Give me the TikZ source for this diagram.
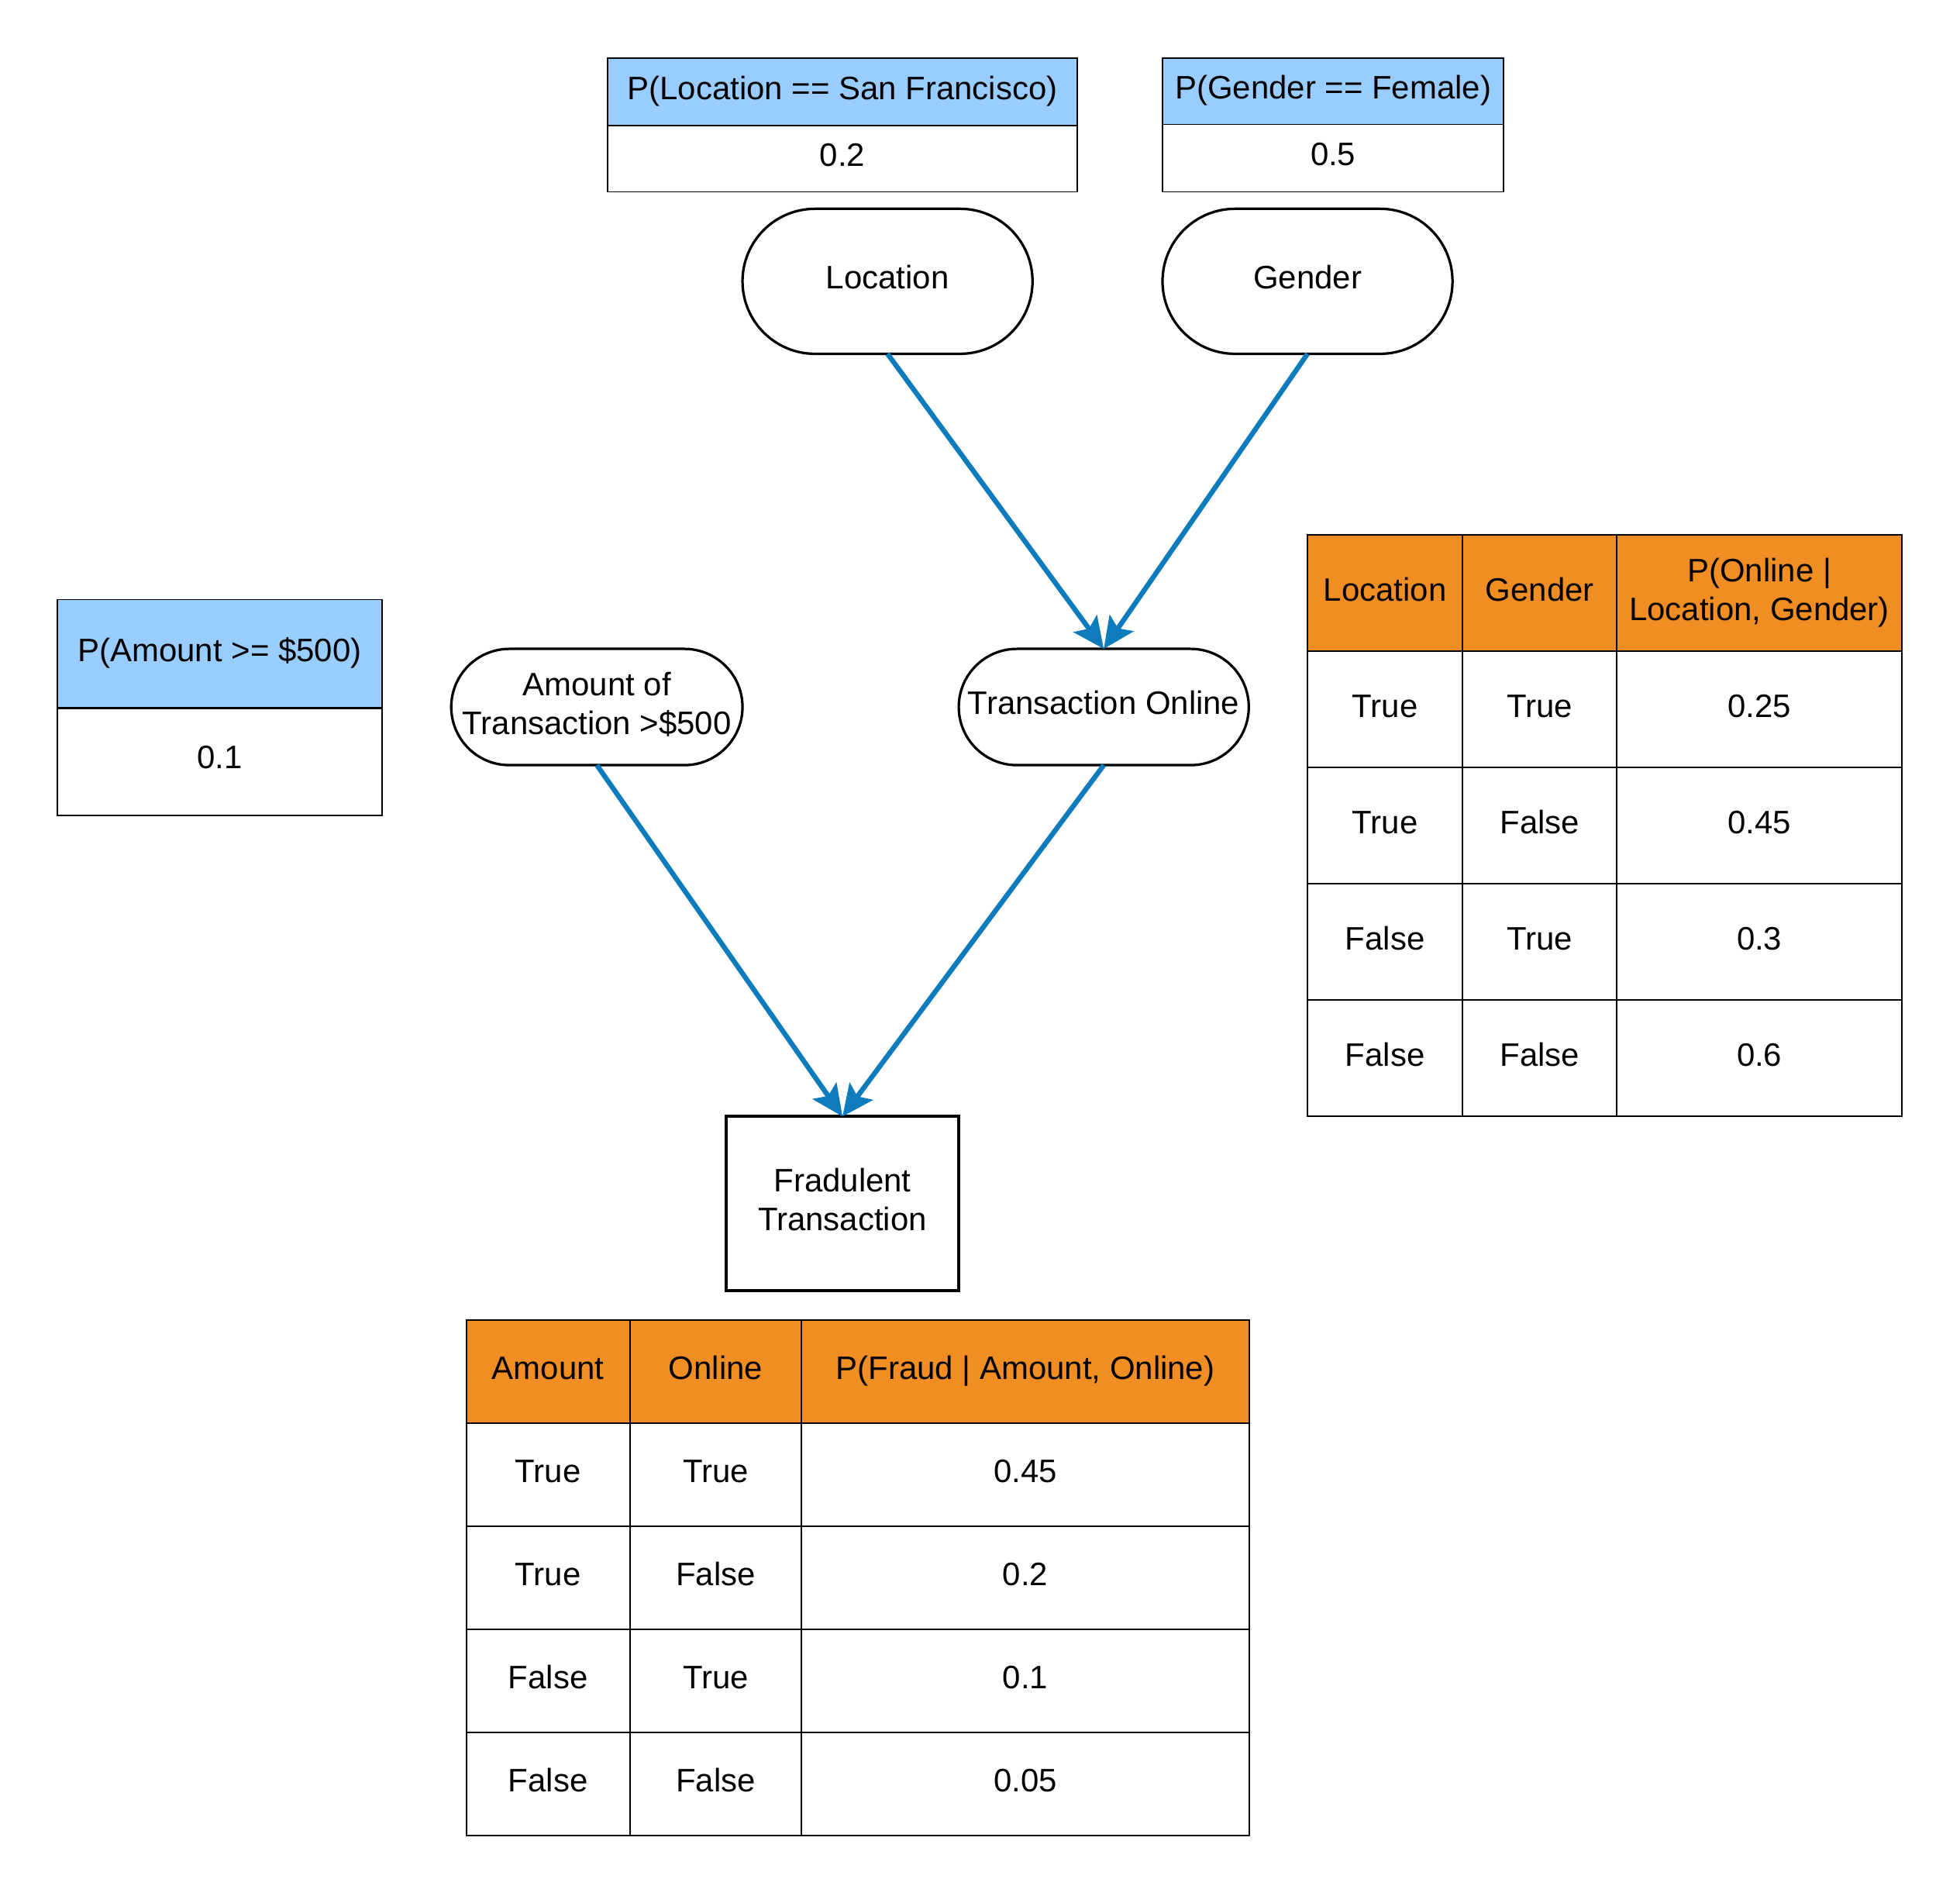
\documentclass[tikz,border=0pt]{standalone}
\usepackage{fontspec}
\setmainfont{Liberation Sans}
\usetikzlibrary{arrows.meta}

\definecolor{hdrblue}{HTML}{99CCFF}
\definecolor{hdrorange}{HTML}{F08D23}
\definecolor{linkblue}{HTML}{0E7CBC}

% depth strut for two-line labels
\newcommand{\lowstrut}{\rule[-6.2pt]{0pt}{6.2pt}}
% table cell: [options]{name}{centre}{width}{height}{text}
\newcommand{\tcell}[6][]{\node[cell,#1,minimum width=#4pt,minimum height=#5pt] (#2) at (#3) {#6};}

\begin{document}
\begin{tikzpicture}[x=1pt,y=-1pt,
  every node/.style={font=\fontsize{26}{31}\selectfont, inner sep=0pt, outer sep=0pt},
  oneline/.style={text height=18.2pt, text depth=6.2pt},
  cellbase/.style={draw, line width=1.1pt},
  cell/.style={cellbase, oneline},
  pill/.style={draw, line width=2pt, fill=white},
  link/.style={draw=linkblue, line width=4pt,
    -{Stealth[length=25pt,width=23pt,inset=5pt]}},
]
\useasboundingbox (0,0) rectangle (1568,1516);

% ---- prior tables ----
\tcell[fill=hdrblue]{plocH}{674,73.5}{376}{54}{P(Location == San Francisco)}
\tcell{plocV}{674,127}{376}{53}{0.2}

\tcell[fill=hdrblue]{pgenH}{1066.5,73}{273}{53}{P(Gender == Female)}
\tcell{pgenV}{1066.5,126.5}{273}{54}{0.5}

\tcell[fill=hdrblue]{pamtH}{175.75,523}{259.5}{87}{P(Amount >= \$500)}
\tcell{pamtV}{175.75,609}{259.5}{86}{0.1}

% ---- network nodes ----
\node[pill, oneline, minimum width=232pt, minimum height=116pt, rounded corners=58pt] (loc) at (710,225) {Location};
\node[pill, oneline, minimum width=232pt, minimum height=116pt, rounded corners=58pt] (gen) at (1046,225) {Gender};
\node[pill, align=center, minimum width=233pt, minimum height=93pt, rounded corners=46.5pt] (amt) at (477.5,565.5) {Amount of\\Transaction >\$500\lowstrut};
\node[pill, oneline, minimum width=232pt, minimum height=93pt, rounded corners=46.5pt] (onl) at (883,565.5) {Transaction Online};
\node[draw, line width=2.5pt, fill=white, align=center, minimum width=186pt, minimum height=139pt] (fraud) at (674,962.5) {Fradulent\\Transaction\lowstrut};

% ---- edges ----
\draw[link] (loc.south) -- (onl.north);
\draw[link] (gen.south) -- (onl.north);
\draw[link] (amt.south) -- (fraud.north);
\draw[link] (onl.south) -- (fraud.north);

% ---- CPT for Transaction Online ----
\tcell[fill=hdrorange]{oH1}{1108,474.5}{124}{93}{Location}
\tcell[fill=hdrorange]{oH2}{1231.75,474.5}{123.5}{93}{Gender}
\node[cellbase, fill=hdrorange, align=center, minimum width=228pt, minimum height=93pt] (oH3) at (1407.5,474.5) {P(Online |\\Location, Gender)\lowstrut};

\tcell{oA1}{1108,567.5}{124}{93}{True}
\tcell{oB1}{1231.75,567.5}{123.5}{93}{True}
\tcell{oC1}{1407.5,567.5}{228}{93}{0.25}

\tcell{oA2}{1108,660.5}{124}{93}{True}
\tcell{oB2}{1231.75,660.5}{123.5}{93}{False}
\tcell{oC2}{1407.5,660.5}{228}{93}{0.45}

\tcell{oA3}{1108,753.5}{124}{93}{False}
\tcell{oB3}{1231.75,753.5}{123.5}{93}{True}
\tcell{oC3}{1407.5,753.5}{228}{93}{0.3}

\tcell{oA4}{1108,846.5}{124}{93}{False}
\tcell{oB4}{1231.75,846.5}{123.5}{93}{False}
\tcell{oC4}{1407.5,846.5}{228}{93}{0.6}

% ---- CPT for Fradulent Transaction ----
\tcell[fill=hdrorange]{fH1}{438.5,1097}{131}{82.5}{Amount}
\tcell[fill=hdrorange]{fH2}{572.5,1097}{137}{82.5}{Online}
\tcell[fill=hdrorange]{fH3}{820.25,1097}{358.5}{82.5}{P(Fraud | Amount, Online)}

\tcell{fA1}{438.5,1179.5}{131}{82.5}{True}
\tcell{fB1}{572.5,1179.5}{137}{82.5}{True}
\tcell{fC1}{820.25,1179.5}{358.5}{82.5}{0.45}

\tcell{fA2}{438.5,1262}{131}{82.5}{True}
\tcell{fB2}{572.5,1262}{137}{82.5}{False}
\tcell{fC2}{820.25,1262}{358.5}{82.5}{0.2}

\tcell{fA3}{438.5,1344.5}{131}{82.5}{False}
\tcell{fB3}{572.5,1344.5}{137}{82.5}{True}
\tcell{fC3}{820.25,1344.5}{358.5}{82.5}{0.1}

\tcell{fA4}{438.5,1427}{131}{82.5}{False}
\tcell{fB4}{572.5,1427}{137}{82.5}{False}
\tcell{fC4}{820.25,1427}{358.5}{82.5}{0.05}

\end{tikzpicture}
\end{document}
